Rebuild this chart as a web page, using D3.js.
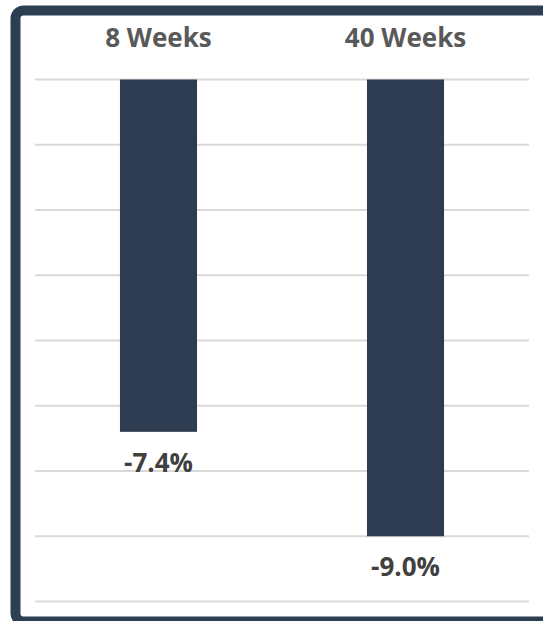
<!DOCTYPE html>
<html>
<head>
<script src="https://cdn.jsdelivr.net/npm/d3@7"></script>
<style>
  body { margin: 0; background: #fff; }
  svg { display: block; }
</style>
</head>
<body>
<script>
// data
var categories = ["8 Weeks", "40 Weeks"];
var values = [-7.4, -9.0];
var valueLabels = ["-7.4%", "-9.0%"];
var gridTicks = [-2, -3, -4, -5, -6, -7, -8, -9, -10];

var W = 543, H = 621;

var svg = d3.select("body").append("svg")
    .attr("width", W)
    .attr("height", H);

// dark rounded frame, partly cut off on the right and bottom
svg.append("rect")
    .attr("x", 15.5)
    .attr("y", 10.5)
    .attr("width", 560)
    .attr("height", 611)
    .attr("rx", 8)
    .attr("fill", "#fff")
    .attr("stroke", "#2d3e52")
    .attr("stroke-width", 10);

var x = d3.scaleBand()
    .domain(categories)
    .range([35, 529])
    .paddingInner(0.688)
    .paddingOuter(0.344);

// axis starts at -2 so bars hang from the top line
var y = d3.scaleLinear()
    .domain([-2, -10])
    .range([79.5, 601.5]);

// gridlines
svg.append("g")
    .selectAll("line")
    .data(gridTicks)
    .join("line")
    .attr("x1", 35)
    .attr("x2", 529)
    .attr("y1", function(d) { return y(d); })
    .attr("y2", function(d) { return y(d); })
    .attr("stroke", "#d9d9d9")
    .attr("stroke-width", 2);

// bars
svg.append("g")
    .selectAll("rect")
    .data(values)
    .join("rect")
    .attr("x", function(d, i) { return x(categories[i]); })
    .attr("y", y(-2))
    .attr("width", x.bandwidth())
    .attr("height", function(d) { return y(d) - y(-2); })
    .attr("fill", "#2e3c52");

// category labels on top
svg.append("g")
    .selectAll("text")
    .data(categories)
    .join("text")
    .attr("x", function(d) { return x(d) + x.bandwidth() / 2; })
    .attr("y", 47)
    .attr("text-anchor", "middle")
    .style("font-family", "'Open Sans', sans-serif")
    .style("font-weight", 700)
    .style("font-size", "26px")
    .attr("fill", "#595959")
    .text(function(d) { return d; });

// value labels under the bars
svg.append("g")
    .selectAll("text")
    .data(values)
    .join("text")
    .attr("x", function(d, i) { return x(categories[i]) + x.bandwidth() / 2; })
    .attr("y", function(d) { return y(d) + 40; })
    .attr("text-anchor", "middle")
    .style("font-family", "'Open Sans', sans-serif")
    .style("font-weight", 700)
    .style("font-size", "26px")
    .attr("fill", "#404040")
    .text(function(d, i) { return valueLabels[i]; });
</script>
</body>
</html>
